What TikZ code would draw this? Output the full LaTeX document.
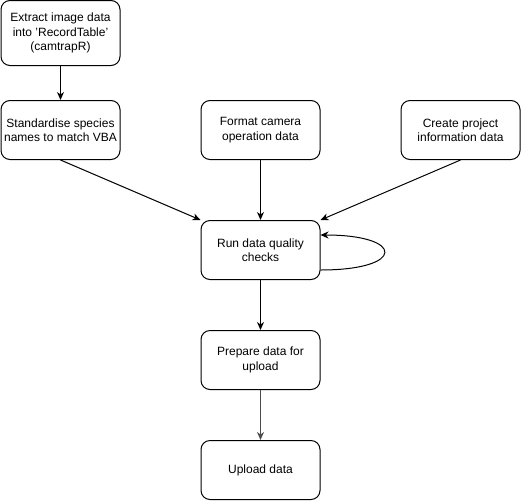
\documentclass[tikz,border=0pt]{standalone}
\usepackage{fontspec}
\setmainfont{Liberation Sans}
\usetikzlibrary{arrows.meta}
\tikzset{
  stepbox/.style={draw, line width=1pt, rounded corners=9pt, align=center,
    minimum width=119pt, minimum height=59pt, inner sep=2pt,
    font=\fontsize{12}{14.5}\selectfont},
  flow/.style={line width=1pt, -{Stealth[length=8pt,width=7pt,inset=2.5pt]}}
}
\begin{document}
\begin{tikzpicture}[x=1pt, y=-1pt]
  \useasboundingbox (0, 0) rectangle (521, 501);
  \node[stepbox, minimum height=65pt] (extract) at (60.5, 33) {Extract image data\\into 'RecordTable'\\(camtrapR)};
  \node[stepbox] (species) at (60.5, 130) {Standardise species\\names to match VBA};
  \node[stepbox] (camop) at (260.5, 130) {Format camera\\operation data};
  \node[stepbox] (project) at (460.5, 130) {Create project\\information data};
  \node[stepbox] (checks) at (260.5, 250) {Run data quality\\checks};
  \node[stepbox] (prepare) at (260.5, 360) {Prepare data for\\upload};
  \node[stepbox] (upload) at (260.5, 470) {Upload data};
  \draw[flow] (extract) -- (species);
  \draw[flow] (species.south) -- (checks.north west);
  \draw[flow] (camop) -- (checks);
  \draw[flow] (project.south) -- (checks.north east);
  \draw[flow] ([yshift=-20pt]checks.east) .. controls +(85, 0) and +(85, 0) .. ([yshift=15pt]checks.east);
  \draw[flow] (checks) -- (prepare);
  \draw[flow, draw=black!70] (prepare) -- (upload);
\end{tikzpicture}
\end{document}
